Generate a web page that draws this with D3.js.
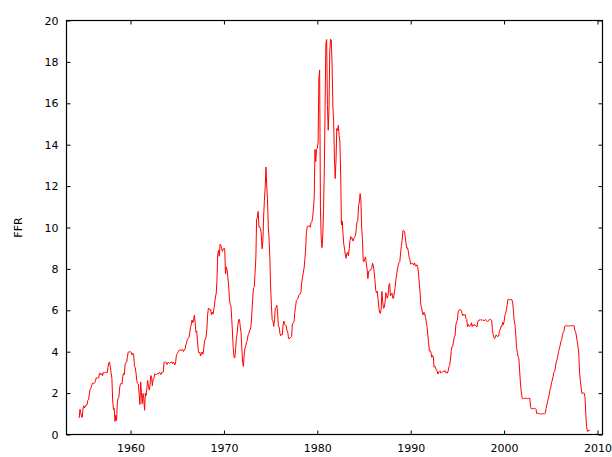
<!DOCTYPE html>
<html>
<head>
<meta charset="utf-8">
<script src="https://cdn.jsdelivr.net/npm/d3@7/dist/d3.min.js"></script>
<style>
  html, body { margin: 0; padding: 0; background: #fff; }
  svg { display: block; }
  text { font-family: "DejaVu Sans", Verdana, sans-serif; font-size: 11px; fill: #000; }
</style>
</head>
<body>
<svg id="chart" width="612" height="457"></svg>
<script>
// Effective federal funds rate, monthly, percent. First observation: July 1954.
const seriesStart = { year: 1954, month: 7 };
const ffr = [
  0.80, 1.22, 1.07, 0.85, 0.83, 1.28,
  1.39, 1.29, 1.35, 1.43, 1.43, 1.64, 1.68, 1.96, 2.18, 2.24, 2.35, 2.48,
  2.45, 2.50, 2.50, 2.62, 2.75, 2.71, 2.75, 2.73, 2.95, 2.96, 2.88, 2.94,
  2.84, 3.00, 2.96, 3.00, 3.00, 3.00, 2.99, 3.24, 3.47, 3.50, 3.28, 2.98,
  2.72, 1.67, 1.20, 1.26, 0.63, 0.93, 0.68, 1.53, 1.76, 1.80, 2.27, 2.42,
  2.48, 2.43, 2.80, 2.96, 2.90, 3.39, 3.47, 3.50, 3.76, 3.98, 4.00, 3.99,
  3.99, 3.97, 3.84, 3.92, 3.85, 3.32, 3.23, 2.98, 2.60, 2.47, 2.44, 1.98,
  1.45, 2.54, 2.02, 1.49, 1.98, 1.73, 1.17, 2.00, 1.88, 2.26, 2.61, 2.33,
  2.15, 2.37, 2.85, 2.78, 2.36, 2.68, 2.71, 2.93, 2.90, 2.90, 2.94, 2.93,
  2.92, 3.00, 2.98, 2.90, 3.00, 2.99, 3.02, 3.49, 3.48, 3.50, 3.48, 3.38,
  3.48, 3.48, 3.43, 3.47, 3.50, 3.50, 3.42, 3.50, 3.45, 3.36, 3.52, 3.85,
  3.90, 3.98, 4.04, 4.09, 4.10, 4.04, 4.09, 4.12, 4.01, 4.08, 4.10, 4.32,
  4.42, 4.60, 4.65, 4.67, 4.90, 5.17, 5.30, 5.53, 5.40, 5.53, 5.76, 5.40,
  4.94, 5.00, 4.53, 4.05, 3.94, 3.98, 3.79, 3.90, 3.99, 3.88, 4.13, 4.51,
  4.61, 4.71, 5.05, 5.76, 6.11, 6.07, 6.02, 6.03, 5.78, 5.91, 5.82, 6.02,
  6.30, 6.64, 6.79, 7.41, 8.67, 8.90, 8.61, 9.19, 9.15, 9.00, 8.85, 8.97,
  8.98, 8.98, 7.76, 8.10, 7.95, 7.61, 7.21, 6.61, 6.29, 6.20, 5.60, 4.90,
  4.14, 3.72, 3.71, 4.16, 4.63, 4.91, 5.31, 5.56, 5.55, 5.20, 4.91, 4.14,
  3.50, 3.29, 3.83, 4.17, 4.27, 4.46, 4.55, 4.80, 4.87, 5.04, 5.06, 5.33,
  5.94, 6.58, 7.09, 7.12, 7.84, 8.49, 10.40, 10.50, 10.78, 10.01, 10.03, 9.95,
  9.65, 8.97, 9.35, 10.51, 11.31, 11.93, 12.92, 12.01, 11.34, 10.06, 9.45, 8.53,
  7.13, 6.24, 5.54, 5.49, 5.22, 5.55, 6.10, 6.14, 6.24, 5.82, 5.22, 5.20,
  4.87, 4.77, 4.84, 4.82, 5.29, 5.48, 5.31, 5.29, 5.25, 5.02, 4.95, 4.65,
  4.61, 4.68, 4.69, 4.73, 5.35, 5.39, 5.42, 5.90, 6.14, 6.47, 6.51, 6.56,
  6.70, 6.78, 6.79, 6.89, 7.36, 7.60, 7.81, 8.04, 8.45, 8.96, 9.76, 10.03,
  10.07, 10.06, 10.09, 10.01, 10.24, 10.29, 10.47, 10.94, 11.43, 13.77, 13.18, 13.78,
  13.82, 14.13, 17.19, 17.61, 10.98, 9.47, 9.03, 9.61, 10.87, 12.81, 15.85, 18.90,
  19.08, 15.93, 14.70, 15.72, 18.52, 19.10, 19.04, 17.82, 15.87, 15.08, 13.31, 12.37,
  13.22, 14.78, 14.68, 14.94, 14.45, 14.15, 12.59, 10.12, 10.31, 9.71, 9.20, 8.95,
  8.68, 8.51, 8.77, 8.80, 8.63, 8.98, 9.37, 9.56, 9.45, 9.48, 9.34, 9.47,
  9.56, 9.59, 9.91, 10.29, 10.32, 11.06, 11.23, 11.64, 11.30, 9.99, 9.43, 8.38,
  8.35, 8.50, 8.58, 8.27, 7.97, 7.53, 7.88, 7.90, 7.92, 7.99, 8.05, 8.27,
  8.14, 7.86, 7.48, 6.99, 6.85, 6.92, 6.56, 6.17, 5.89, 5.85, 6.04, 6.91,
  6.43, 6.10, 6.13, 6.37, 6.85, 6.73, 6.58, 6.73, 7.22, 7.29, 6.69, 6.77,
  6.83, 6.58, 6.58, 6.87, 7.09, 7.51, 7.75, 8.01, 8.19, 8.30, 8.35, 8.76,
  9.12, 9.36, 9.85, 9.84, 9.81, 9.53, 9.24, 8.99, 9.02, 8.84, 8.55, 8.45,
  8.23, 8.24, 8.28, 8.26, 8.18, 8.29, 8.15, 8.13, 8.20, 8.11, 7.81, 7.31,
  6.91, 6.25, 6.12, 5.91, 5.78, 5.90, 5.82, 5.66, 5.45, 5.21, 4.81, 4.43,
  4.03, 4.06, 3.98, 3.73, 3.82, 3.76, 3.25, 3.30, 3.22, 3.10, 3.09, 2.92,
  3.02, 3.03, 3.07, 2.96, 3.00, 3.04, 3.06, 3.03, 3.09, 2.99, 3.02, 2.96,
  3.05, 3.25, 3.34, 3.56, 4.01, 4.25, 4.26, 4.47, 4.73, 4.76, 5.29, 5.45,
  5.53, 5.92, 5.98, 6.05, 6.01, 6.00, 5.85, 5.74, 5.80, 5.76, 5.80, 5.60,
  5.56, 5.22, 5.31, 5.22, 5.24, 5.27, 5.40, 5.22, 5.30, 5.24, 5.31, 5.29,
  5.25, 5.19, 5.39, 5.51, 5.50, 5.56, 5.52, 5.54, 5.54, 5.50, 5.52, 5.50,
  5.56, 5.51, 5.49, 5.45, 5.49, 5.56, 5.54, 5.55, 5.51, 5.07, 4.83, 4.68,
  4.63, 4.76, 4.81, 4.74, 4.74, 4.76, 4.99, 5.07, 5.22, 5.20, 5.42, 5.30,
  5.45, 5.73, 5.85, 6.02, 6.27, 6.53, 6.54, 6.50, 6.52, 6.51, 6.51, 6.40,
  5.98, 5.49, 5.31, 4.80, 4.21, 3.97, 3.77, 3.65, 3.07, 2.49, 2.09, 1.82,
  1.73, 1.74, 1.73, 1.75, 1.75, 1.75, 1.73, 1.74, 1.75, 1.75, 1.34, 1.24,
  1.24, 1.26, 1.25, 1.26, 1.26, 1.22, 1.01, 1.03, 1.01, 1.01, 1.00, 0.98,
  1.00, 1.01, 1.00, 1.00, 1.00, 1.03, 1.26, 1.43, 1.61, 1.76, 1.93, 2.16,
  2.28, 2.50, 2.63, 2.79, 3.00, 3.04, 3.26, 3.50, 3.62, 3.78, 4.00, 4.16,
  4.29, 4.49, 4.59, 4.79, 4.94, 4.99, 5.24, 5.25, 5.25, 5.25, 5.25, 5.24,
  5.25, 5.26, 5.26, 5.25, 5.25, 5.25, 5.26, 5.02, 4.94, 4.76, 4.49, 4.24,
  3.94, 2.98, 2.61, 2.28, 1.98, 2.00, 2.01, 2.00, 1.81, 0.97, 0.39, 0.16,
  0.15, 0.22, 0.18
];

const xTicks = [1960, 1970, 1980, 1990, 2000, 2010];
const yTicks = [0, 2, 4, 6, 8, 10, 12, 14, 16, 18, 20];
const yTitle = "FFR";

// Plot frame in page pixels
const frame = { left: 66.5, right: 602.5, top: 20.5, bottom: 434.5 };
const tickLen = 4;

const svg = d3.select("#chart");

// Decimal-year time for each monthly observation
const points = ffr.map((v, i) => ({
  t: seriesStart.year + (seriesStart.month - 1 + i) / 12,
  v
}));

const x = d3.scaleLinear().domain([1953.14, 2010.54]).range([frame.left, frame.right]);
const y = d3.scaleLinear().domain([0, 20]).range([frame.bottom, frame.top]);

// Bottom axis: labels below, inward ticks
const bottomAxis = d3.axisBottom(x).tickValues(xTicks).tickFormat(d3.format("d"))
  .tickSizeInner(-tickLen).tickSizeOuter(0).tickPadding(10);
const topAxis = d3.axisTop(x).tickValues(xTicks).tickFormat("")
  .tickSizeInner(-tickLen).tickSizeOuter(0);
const leftAxis = d3.axisLeft(y).tickValues(yTicks).tickFormat(d3.format("d"))
  .tickSizeInner(-tickLen).tickSizeOuter(0).tickPadding(8);
const rightAxis = d3.axisRight(y).tickValues(yTicks).tickFormat("")
  .tickSizeInner(-tickLen).tickSizeOuter(0);

function styleAxis(g) {
  g.select(".domain").remove();
  g.selectAll(".tick line").attr("stroke", "#000").attr("stroke-width", 1);
  g.selectAll(".tick text")
    .attr("font-family", "'DejaVu Sans', Verdana, sans-serif")
    .attr("font-size", 11)
    .attr("fill", "#000");
}

svg.append("g").attr("transform", `translate(0,${frame.bottom})`).call(bottomAxis).call(styleAxis);
svg.append("g").attr("transform", `translate(0,${frame.top})`).call(topAxis).call(styleAxis);
svg.append("g").attr("transform", `translate(${frame.left},0)`).call(leftAxis).call(styleAxis);
svg.append("g").attr("transform", `translate(${frame.right},0)`).call(rightAxis).call(styleAxis);

// Rate line
const line = d3.line().x(d => x(d.t)).y(d => y(d.v));
svg.append("path")
  .datum(points)
  .attr("fill", "none")
  .attr("stroke", "#ff0000")
  .attr("stroke-width", 1)
  .attr("stroke-linejoin", "round")
  .attr("d", line);

// Border box
svg.append("rect")
  .attr("x", frame.left).attr("y", frame.top)
  .attr("width", frame.right - frame.left)
  .attr("height", frame.bottom - frame.top)
  .attr("fill", "none")
  .attr("stroke", "#000")
  .attr("stroke-width", 1.2);

// Y-axis title
svg.append("text")
  .attr("transform", `translate(22,${(frame.top + frame.bottom) / 2}) rotate(-90)`)
  .attr("text-anchor", "middle")
  .text(yTitle);
</script>
</body>
</html>
